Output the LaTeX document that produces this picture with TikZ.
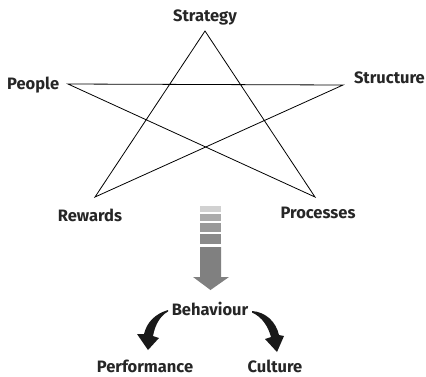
\documentclass[tikz,border=0pt]{standalone}
\usepackage{fontspec}
\setmainfont{Fira Sans}
\begin{document}
\begin{tikzpicture}[x=1pt,y=-1pt,
  lbl/.style={font=\bfseries\fontsize{16.5}{19}\selectfont, text=black!85, inner sep=0pt},
  starline/.style={draw=black, line width=0.8pt, line join=miter},
  curvarrow/.style={fill=black!90, draw=none}]
\useasboundingbox (0,0) rectangle (426,376);
% star vertices
\coordinate (T) at (205,31);
\coordinate (L) at (68,84);
\coordinate (R) at (343,85);
\coordinate (BL) at (95,197);
\coordinate (BR) at (315,197);
\draw[starline] (T) -- (BL) -- (R) -- (L) -- (BR) -- cycle;
% labels
\node[lbl, anchor=base] (strategy) at (205,21) {Strategy};
\node[lbl, anchor=base west] (people) at (7,89) {People};
\node[lbl, anchor=base east] (structure) at (425,83) {Structure};
\node[lbl, anchor=base] (rewards) at (90,221) {Rewards};
\node[lbl, anchor=base] (processes) at (318,218) {Processes};
\node[lbl, anchor=base] (behaviour) at (210,315) {Behaviour};
\node[lbl, anchor=base] (performance) at (145,372) {Performance};
\node[lbl, anchor=base] (culture) at (275,372) {Culture};
% gray graded arrow
\fill[black!18] (200,206) rectangle (221,212);
\fill[black!33] (200,214) rectangle (221,221);
\fill[black!40] (200,223) rectangle (221,232);
\fill[black!46] (200,234) rectangle (221,244);
\fill[black!50] (200,247) -- (221,247) -- (221,277) -- (229,277) -- (210.5,290) -- (193,277) -- (200,277) -- cycle;
% curved arrows
\fill[curvarrow] (168,310) .. controls (155,314) and (147,322) .. (144,334) -- (137,334) -- (148,350) -- (159,338) -- (153,336) .. controls (155,325) and (160,316) .. (168,311.5) -- cycle;
\fill[curvarrow] (252,311) .. controls (266,312) and (276,322) .. (279,335) -- (284,336) -- (277,352) -- (265,339) -- (271,337) .. controls (268,326) and (262,317) .. (252,312.5) -- cycle;
\end{tikzpicture}
\end{document}
